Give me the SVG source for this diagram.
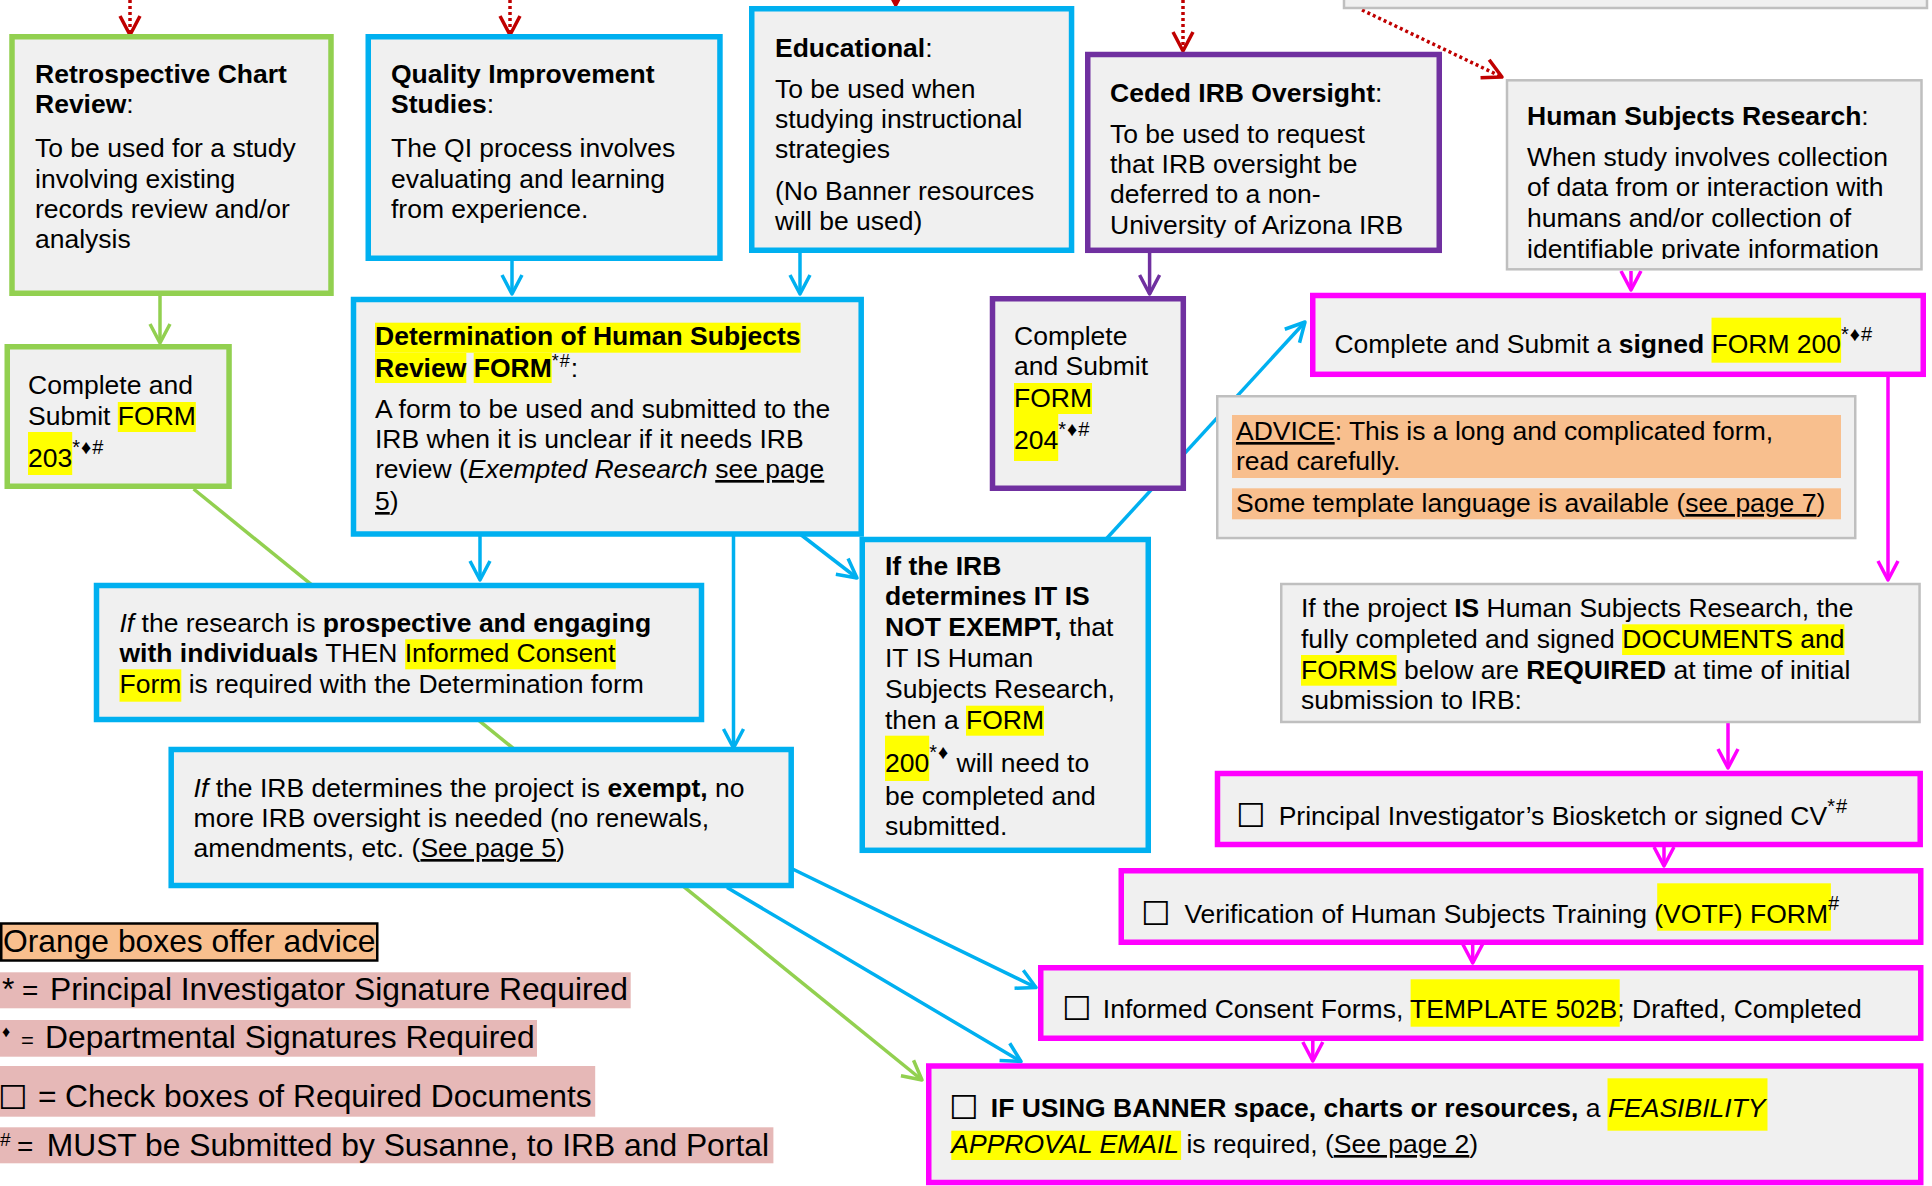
<svg xmlns="http://www.w3.org/2000/svg" width="1932" height="1186" viewBox="0 0 1932 1186">
<style>
text{font-family:"Liberation Sans",Arial,sans-serif;font-size:26.5px;fill:#000}
.b{font-weight:bold}
.i{font-style:italic}
.u{text-decoration:underline}
.sup{font-size:20px;letter-spacing:1px}
.box{fill:#F0F0F0}
.g{stroke:#92D050;stroke-width:5.5}
.bl{stroke:#00B0F0;stroke-width:5.5}
.pu{stroke:#7030A0;stroke-width:5.5}
.mg{stroke:#FF00FF;stroke-width:5.5}
.gr{stroke:#BFBFBF;stroke-width:2.5}
.hl{fill:#FFFF00}
.or{fill:#F8BF8E}
.pk{fill:#E6B8B7}
.cb{font-family:"DejaVu Sans",sans-serif;font-size:33px}
.leg{font-size:31.8px}
.cr{stroke:#C00000;stroke-width:3.5;fill:none;stroke-dasharray:3 3}
.cg{stroke:#92D050;stroke-width:3.5;fill:none}
.cbl{stroke:#00B0F0;stroke-width:3.5;fill:none}
.cpu{stroke:#7030A0;stroke-width:3.5;fill:none}
.cmg{stroke:#FF00FF;stroke-width:3.5;fill:none}
</style>
<defs>
<marker id="aR" markerUnits="userSpaceOnUse" markerWidth="30" markerHeight="30" viewBox="-25 -15 30 30" refX="0" refY="0" orient="auto" overflow="visible"><path d="M-19,-10 L0,0 L-19,10" fill="none" stroke="#C00000" stroke-width="3.5" stroke-linejoin="round"/></marker>
<marker id="aG" markerUnits="userSpaceOnUse" markerWidth="30" markerHeight="30" viewBox="-25 -15 30 30" refX="0" refY="0" orient="auto" overflow="visible"><path d="M-19,-10 L0,0 L-19,10" fill="none" stroke="#92D050" stroke-width="3.5" stroke-linejoin="round"/></marker>
<marker id="aB" markerUnits="userSpaceOnUse" markerWidth="30" markerHeight="30" viewBox="-25 -15 30 30" refX="0" refY="0" orient="auto" overflow="visible"><path d="M-19,-10 L0,0 L-19,10" fill="none" stroke="#00B0F0" stroke-width="3.5" stroke-linejoin="round"/></marker>
<marker id="aP" markerUnits="userSpaceOnUse" markerWidth="30" markerHeight="30" viewBox="-25 -15 30 30" refX="0" refY="0" orient="auto" overflow="visible"><path d="M-19,-10 L0,0 L-19,10" fill="none" stroke="#7030A0" stroke-width="3.5" stroke-linejoin="round"/></marker>
<marker id="aM" markerUnits="userSpaceOnUse" markerWidth="30" markerHeight="30" viewBox="-25 -15 30 30" refX="0" refY="0" orient="auto" overflow="visible"><path d="M-19,-10 L0,0 L-19,10" fill="none" stroke="#FF00FF" stroke-width="3.5" stroke-linejoin="round"/></marker>
<clipPath id="clipCeded"><rect x="1088" y="54" width="352" height="183.5"/></clipPath>
<clipPath id="clipHSR"><rect x="1507" y="80" width="415" height="179"/></clipPath>
</defs>

<g id="connectors">
<path class="cr" d="M130,0 V35" marker-end="url(#aR)"/>
<path class="cr" d="M510,0 V35" marker-end="url(#aR)"/>
<path class="cr" d="M895.7,-12 V5" marker-end="url(#aR)"/>
<path class="cr" d="M1183,0 V51" marker-end="url(#aR)"/>
<path class="cr" d="M1362,10 L1502,77" marker-end="url(#aR)"/>
<path class="cg" d="M160,296 V343" marker-end="url(#aG)"/>
<path class="cg" d="M193.6,489 L922,1080" marker-end="url(#aG)"/>
<path class="cbl" d="M512,261 V294" marker-end="url(#aB)"/>
<path class="cbl" d="M800,253 V294" marker-end="url(#aB)"/>
<path class="cbl" d="M480,536 V580" marker-end="url(#aB)"/>
<path class="cbl" d="M733.5,536 V748" marker-end="url(#aB)"/>
<path class="cbl" d="M800,534 L857,578" marker-end="url(#aB)"/>
<path class="cbl" d="M1101.6,544 L1305,322" marker-end="url(#aB)"/>
<path class="cbl" d="M790,867.8 L1036,987.5" marker-end="url(#aB)"/>
<path class="cbl" d="M727,887.5 L1021,1061.5" marker-end="url(#aB)"/>
<path class="cpu" d="M1149.6,253 V294" marker-end="url(#aP)"/>
<path class="cmg" d="M1631,271 V290" marker-end="url(#aM)"/>
<path class="cmg" d="M1888,377 V580" marker-end="url(#aM)"/>
<path class="cmg" d="M1728,723 V768" marker-end="url(#aM)"/>
<path class="cmg" d="M1664,847 V866" marker-end="url(#aM)"/>
<path class="cmg" d="M1472.7,945 V963" marker-end="url(#aM)"/>
<path class="cmg" d="M1312.8,1041 V1061" marker-end="url(#aM)"/>
</g>

<g id="top-box">
<rect class="box gr" x="1344" y="-30" width="583" height="38"/>
</g>

<g id="retro">
<rect class="box g" x="12" y="36.75" width="319" height="256.5"/>
<text x="35" y="83" class="b">Retrospective Chart</text>
<text x="35" y="113"><tspan class="b">Review</tspan>:</text>
<text x="35" y="157">To be used for a study</text>
<text x="35" y="187.5">involving existing</text>
<text x="35" y="218">records review and/or</text>
<text x="35" y="248">analysis</text>
</g>

<g id="qi">
<rect class="box bl" x="368.25" y="36.75" width="351.7" height="221.5"/>
<text x="391" y="83" class="b">Quality Improvement</text>
<text x="391" y="113"><tspan class="b">Studies</tspan>:</text>
<text x="391" y="157">The QI process involves</text>
<text x="391" y="187.5">evaluating and learning</text>
<text x="391" y="218">from experience.</text>
</g>

<g id="educational">
<rect class="box bl" x="751.75" y="8.75" width="319.8" height="241.5"/>
<text x="775" y="57"><tspan class="b">Educational</tspan>:</text>
<text x="775" y="98">To be used when</text>
<text x="775" y="128">studying instructional</text>
<text x="775" y="158">strategies</text>
<text x="775" y="200">(No Banner resources</text>
<text x="775" y="230">will be used)</text>
</g>

<g id="ceded">
<rect class="box pu" x="1087.75" y="54.5" width="351.5" height="195.8"/>
<g clip-path="url(#clipCeded)">
<text x="1110" y="102"><tspan class="b">Ceded IRB Oversight</tspan>:</text>
<text x="1110" y="143">To be used to request</text>
<text x="1110" y="173">that IRB oversight be</text>
<text x="1110" y="203">deferred to a non-</text>
<text x="1110" y="234">University of Arizona IRB</text>
</g>
</g>

<g id="hsr">
<rect class="box gr" x="1507" y="80.3" width="414.5" height="189"/>
<g clip-path="url(#clipHSR)">
<text x="1527" y="125"><tspan class="b">Human Subjects Research</tspan>:</text>
<text x="1527" y="165.7">When study involves collection</text>
<text x="1527" y="196.3">of data from or interaction with</text>
<text x="1527" y="226.8">humans and/or collection of</text>
<text x="1527" y="257.5">identifiable private information</text>
</g>
</g>

<g id="form203">
<rect class="box g" x="7.25" y="346.75" width="221.8" height="139.5"/>
<rect class="hl" x="117.8" y="402" width="78" height="30"/>
<rect class="hl" x="28" y="432" width="44.2" height="43"/>
<text x="28" y="394">Complete and</text>
<text x="28" y="425">Submit FORM</text>
<text x="28" y="467">203<tspan class="sup" dy="-13">*♦#</tspan></text>
</g>

<g id="determination">
<rect class="box bl" x="353.5" y="299.5" width="507.7" height="234.5"/>
<rect class="hl" x="375" y="322.7" width="425.6" height="30"/>
<rect class="hl" x="375" y="352.7" width="91.3" height="30.3"/>
<rect class="hl" x="473.7" y="352.7" width="78" height="30.3"/>
<text x="375" y="345" class="b">Determination of Human Subjects</text>
<text x="375" y="377"><tspan class="b">Review FORM</tspan><tspan class="sup" dy="-10" style="font-size:18px">*#</tspan><tspan dy="10">:</tspan></text>
<text x="375" y="418">A form to be used and submitted to the</text>
<text x="375" y="448">IRB when it is unclear if it needs IRB</text>
<text x="375" y="478">review (<tspan class="i">Exempted Research</tspan> <tspan class="u">see page</tspan></text>
<text x="375" y="510"><tspan class="u">5</tspan>)</text>
</g>

<g id="form204">
<rect class="box pu" x="992.5" y="298.75" width="190.8" height="189.5"/>
<rect class="hl" x="1014" y="383" width="78" height="31"/>
<rect class="hl" x="1014" y="414" width="44.2" height="47"/>
<text x="1014" y="345">Complete</text>
<text x="1014" y="375">and Submit</text>
<text x="1014" y="407">FORM</text>
<text x="1014" y="449">204<tspan class="sup" dy="-13">*♦#</tspan></text>
</g>

<g id="form200">
<rect class="box mg" x="1312.75" y="295.5" width="610.5" height="78.8"/>
<rect class="hl" x="1711.5" y="317.7" width="129.6" height="45"/>
<text x="1334.4" y="353">Complete and Submit a <tspan class="b">signed</tspan> FORM 200<tspan class="sup" dy="-12">*♦#</tspan></text>
</g>

<g id="advice">
<rect class="box gr" x="1217.25" y="396.25" width="638" height="141.8"/>
<rect class="or" x="1232" y="415" width="609" height="63"/>
<rect class="or" x="1232" y="488.3" width="609" height="31"/>
<text x="1236" y="440"><tspan class="u">ADVICE</tspan>: This is a long and complicated form,</text>
<text x="1236" y="470">read carefully.</text>
<text x="1236" y="512">Some template language is available (<tspan class="u">see page 7</tspan>)</text>
</g>

<g id="not-exempt">
<rect class="box bl" x="862.25" y="539.5" width="286" height="310.8"/>
<rect class="hl" x="966" y="705.7" width="78" height="30"/>
<rect class="hl" x="885" y="735.7" width="44.2" height="45.3"/>
<text x="885" y="575" class="b">If the IRB</text>
<text x="885" y="605" class="b">determines IT IS</text>
<text x="885" y="636"><tspan class="b">NOT EXEMPT,</tspan> that</text>
<text x="885" y="667">IT IS Human</text>
<text x="885" y="698">Subjects Research,</text>
<text x="885" y="729">then a FORM</text>
<text x="885" y="772">200<tspan class="sup" dy="-13">*♦</tspan><tspan dy="13"> will need to</tspan></text>
<text x="885" y="804.5">be completed and</text>
<text x="885" y="835">submitted.</text>
</g>

<g id="prospective">
<rect class="box bl" x="96.5" y="585.5" width="605" height="134"/>
<rect class="hl" x="405.2" y="639.3" width="210.6" height="30"/>
<rect class="hl" x="119.5" y="669.3" width="61.8" height="32.4"/>
<text x="119.5" y="632"><tspan class="i">If</tspan> the research is <tspan class="b">prospective and engaging</tspan></text>
<text x="119.5" y="662"><tspan class="b">with individuals</tspan> THEN Informed Consent</text>
<text x="119.5" y="693">Form is required with the Determination form</text>
</g>

<g id="hsr-is">
<rect class="box gr" x="1281.25" y="584" width="638.3" height="138"/>
<rect class="hl" x="1622.1" y="624.3" width="222.3" height="30.7"/>
<rect class="hl" x="1301" y="655" width="95.7" height="30.7"/>
<text x="1301" y="617">If the project <tspan class="b">IS</tspan> Human Subjects Research, the</text>
<text x="1301" y="647.5">fully completed and signed DOCUMENTS and</text>
<text x="1301" y="678.5">FORMS below are <tspan class="b">REQUIRED</tspan> at time of initial</text>
<text x="1301" y="708.5">submission to IRB:</text>
</g>

<g id="exempt">
<rect class="box bl" x="171.2" y="749.5" width="620" height="136"/>
<text x="193.6" y="797"><tspan class="i">If</tspan> the IRB determines the project is <tspan class="b">exempt,</tspan> no</text>
<text x="193.6" y="827">more IRB oversight is needed (no renewals,</text>
<text x="193.6" y="857">amendments, etc. (<tspan class="u">See page 5</tspan>)</text>
</g>

<g id="pi">
<rect class="box mg" x="1217.5" y="773.5" width="702.7" height="71"/>
<text class="cb" x="1236" y="827">☐</text>
<text x="1278.7" y="825">Principal Investigator’s Biosketch or signed CV<tspan class="sup" dy="-12">*#</tspan></text>
</g>

<g id="votf">
<rect class="box mg" x="1121.25" y="870.75" width="799.5" height="71.5"/>
<rect class="hl" x="1657.2" y="883.3" width="173.7" height="47.4"/>
<text class="cb" x="1141" y="925">☐</text>
<text x="1184.4" y="923">Verification of Human Subjects Training (VOTF) FORM<tspan class="sup" dy="-13">#</tspan></text>
</g>

<g id="icf">
<rect class="box mg" x="1040.75" y="967.75" width="880" height="70.5"/>
<rect class="hl" x="1410.6" y="979.3" width="209.1" height="47.4"/>
<text class="cb" x="1062" y="1020">☐</text>
<text x="1102.8" y="1018">Informed Consent Forms, TEMPLATE 502B; Drafted, Completed</text>
</g>

<g id="banner">
<rect class="box mg" x="928.75" y="1066" width="992" height="116.5"/>
<rect class="hl" x="1607.5" y="1078.3" width="160" height="52.4"/>
<rect class="hl" x="951.3" y="1130.7" width="229.8" height="29.3"/>
<text class="cb" x="949" y="1119">☐</text>
<text x="990.8" y="1117"><tspan class="b">IF USING BANNER space, charts or resources,</tspan> a <tspan class="i">FEASIBILITY</tspan></text>
<text x="951.3" y="1153"><tspan class="i">APPROVAL EMAIL</tspan> is required, (<tspan class="u">See page 2</tspan>)</text>
</g>

<g id="legend">
<rect x="1.25" y="923.5" width="376" height="37" fill="#F8BF8E" stroke="#000" stroke-width="2.5"/>
<text class="leg" x="3" y="952">Orange boxes offer advice</text>
<rect class="pk" x="0" y="972.3" width="630.7" height="36"/>
<text class="leg" x="2" y="1000">*<tspan x="22" font-size="28">=</tspan><tspan x="50">Principal Investigator Signature Required</tspan></text>
<rect class="pk" x="0" y="1020" width="537" height="36.7"/>
<text class="leg" x="2" y="1048.3"><tspan font-size="16" dy="-11">♦</tspan><tspan x="21" dy="11" font-size="22">=</tspan><tspan x="45">Departmental Signatures Required</tspan></text>
<rect class="pk" x="0" y="1066" width="595.2" height="50.7"/>
<text class="cb" x="-2" y="1109" font-size="36">☐</text>
<text class="leg" x="38" y="1106.7">=<tspan x="65">Check boxes of Required Documents</tspan></text>
<rect class="pk" x="0" y="1127.3" width="773.4" height="36"/>
<text class="leg" x="0" y="1156"><tspan font-size="19" dy="-10">#</tspan><tspan x="17" dy="10" font-size="28">=</tspan><tspan x="46.7">MUST be Submitted by Susanne, to IRB and Portal</tspan></text>
</g>
</svg>
